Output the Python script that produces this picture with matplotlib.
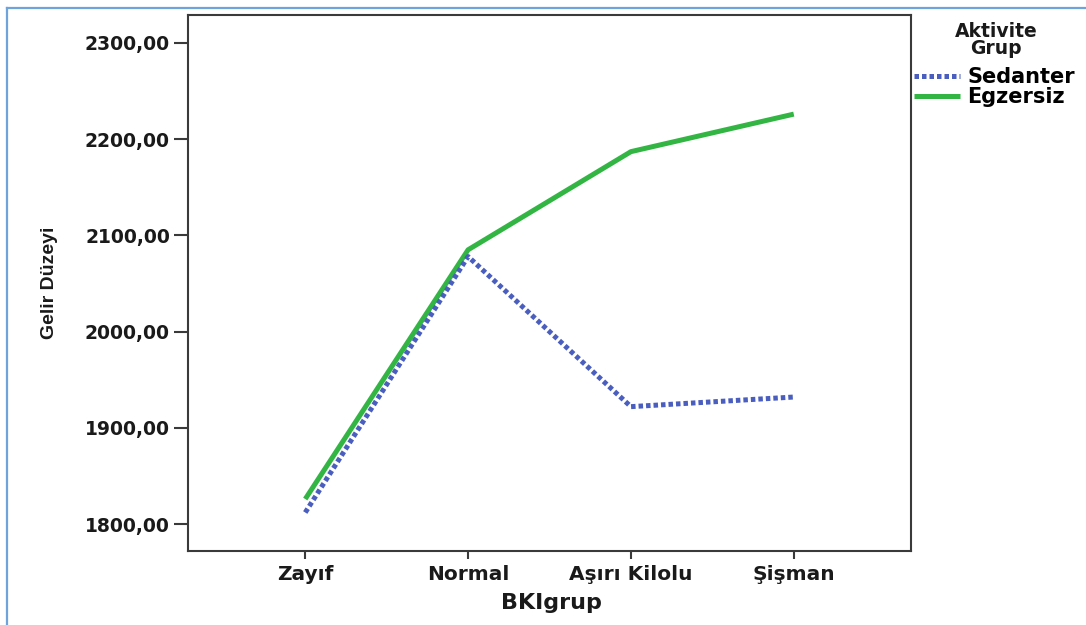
import matplotlib
matplotlib.use("Agg")
import matplotlib.pyplot as plt
from matplotlib.lines import Line2D

# BKI groups and mean income per activity group
categories = ["Zayıf", "Normal", "Aşırı Kilolu", "Şişman"]
sedanter = [1812, 2078, 1922, 1932]
egzersiz = [1826, 2085, 2187, 2226]
yticks = [1800, 1900, 2000, 2100, 2200, 2300]
ytick_labels = ["1800,00", "1900,00", "2000,00", "2100,00", "2200,00", "2300,00"]

W, H = 1086, 625
fig = plt.figure(figsize=(W / 100, H / 100), dpi=100)
ax = fig.add_axes([188 / W, 1 - 551 / H, (911 - 188) / W, (551 - 15) / H])

BLUE = "#4a5ec0"
GREEN = "#33b544"
DOTS = (0, (0.9, 0.6))

x = list(range(len(categories)))
ax.plot(x, egzersiz, color=GREEN, lw=3.6, solid_capstyle="butt", zorder=2)
ax.plot(x, sedanter, color=BLUE, lw=3.6, linestyle=DOTS, dash_capstyle="butt", zorder=3)

ax.set_xlim(-0.72, 3.72)
ax.set_ylim(1772, 2329)
ax.set_xticks(x)
ax.set_xticklabels(categories)
ax.set_yticks(yticks)
ax.set_yticklabels(ytick_labels)

for s in ax.spines.values():
    s.set_color("#3a3a3a")
    s.set_linewidth(1.5)

ax.tick_params(axis="y", direction="out", length=10, width=1.5, color="#3a3a3a", pad=3)
ax.tick_params(axis="x", direction="out", length=6, width=1.5, color="#3a3a3a", pad=4)
for lab in ax.get_yticklabels():
    lab.set_fontweight("bold")
    lab.set_fontsize(13.5)
    lab.set_color("#1a1a1a")
for lab in ax.get_xticklabels():
    lab.set_fontweight("bold")
    lab.set_fontsize(14.5)
    lab.set_color("#1a1a1a")

ax.set_xlabel("BKIgrup", fontsize=16, fontweight="bold", color="#1a1a1a")
ax.xaxis.set_label_coords(0.502, -0.097)
ax.xaxis.label.set_va("center")
ax.set_ylabel("Gelir Düzeyi", fontsize=14, fontweight="bold", color="#1a1a1a",
              family=["Liberation Sans", "DejaVu Sans"])
ax.yaxis.set_label_coords(-0.191, 0.5)
ax.yaxis.label.set_va("center")

# legend title and entries
fig.text(996 / W, 1 - 40 / H, "Aktivite\nGrup", ha="center", va="center",
         fontsize=13.5, fontweight="bold", linespacing=0.85, color="#1a1a1a")
handles = [Line2D([], [], color=BLUE, lw=3.6, linestyle=DOTS, dash_capstyle="butt"),
           Line2D([], [], color=GREEN, lw=3.6, solid_capstyle="butt")]
fig.legend(handles, ["Sedanter", "Egzersiz"],
           loc="upper left", bbox_to_anchor=(914 / W, 1 - 67 / H),
           frameon=False, borderpad=0, borderaxespad=0, handlelength=2.2,
           handletextpad=0.35, labelspacing=0.0,
           prop={"weight": "bold", "size": 15})

# light blue frame lines along the top and left edges
fig.add_artist(Line2D([7 / W, 1.0], [1 - 8 / H, 1 - 8 / H], transform=fig.transFigure,
                      color="#6fa3dc", lw=1.6))
fig.add_artist(Line2D([7 / W, 7 / W], [0.0, 1 - 8 / H], transform=fig.transFigure,
                      color="#6fa3dc", lw=1.6))

fig.savefig("out.png", dpi=100)
